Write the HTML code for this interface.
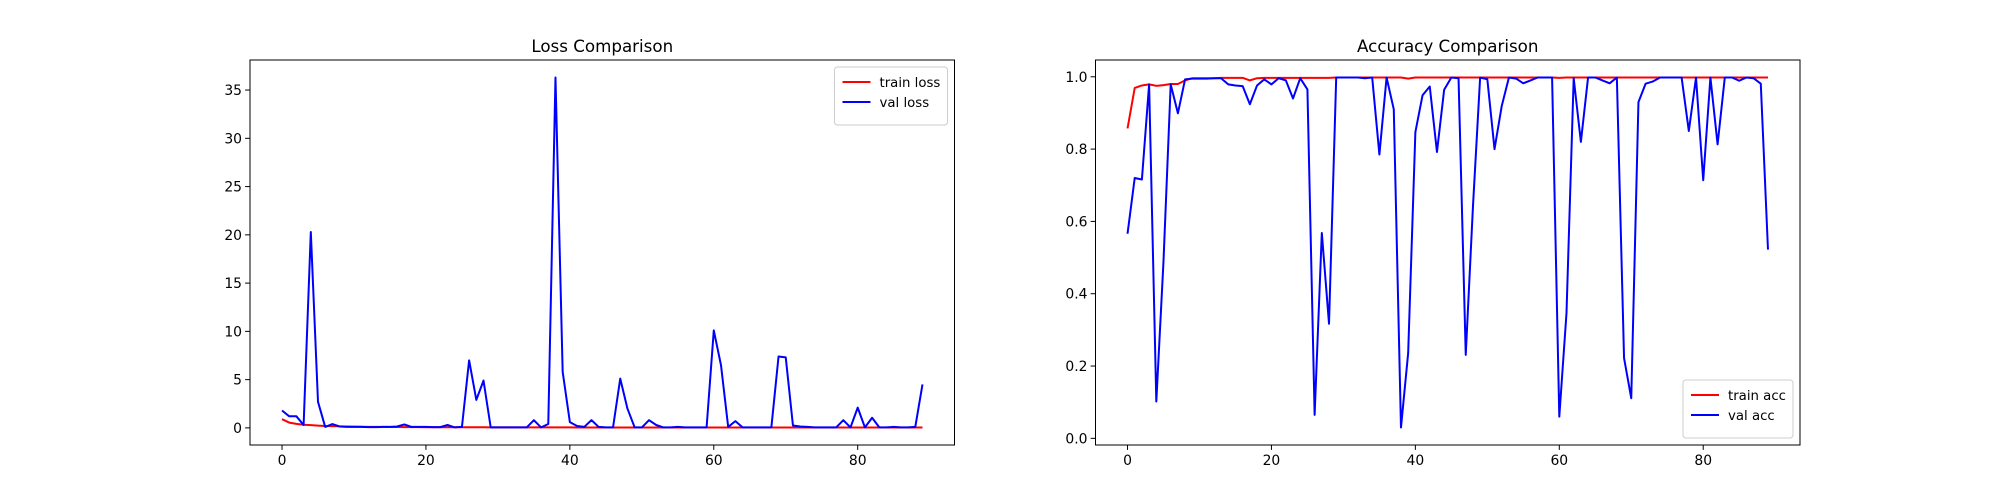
<!DOCTYPE html>
<html><head><meta charset="utf-8"><style>
body{margin:0;background:#fff;}
svg{display:block;font-family:"DejaVu Sans","Liberation Sans",sans-serif;}
</style></head><body>
<svg id="fig" width="2000" height="500" xmlns="http://www.w3.org/2000/svg"></svg>
<script>
const epochs = Array.from({length:90},(_, i)=>i);
const trainLoss = [0.9,0.55,0.42,0.32,0.28,0.24,0.2,0.18,0.16,0.14,0.13,0.12,0.11,0.1,0.1,0.09,0.09,0.08,0.08,0.08,0.07,0.07,0.07,0.07,0.06,0.06,0.06,0.06,0.06,0.05,0.05,0.05,0.05,0.05,0.05,0.05,0.05,0.05,0.05,0.05,0.05,0.04,0.04,0.04,0.04,0.04,0.04,0.04,0.04,0.04,0.04,0.04,0.04,0.04,0.04,0.04,0.04,0.04,0.04,0.04,0.04,0.04,0.04,0.04,0.04,0.04,0.04,0.04,0.04,0.04,0.04,0.04,0.04,0.04,0.04,0.04,0.04,0.04,0.04,0.04,0.04,0.04,0.04,0.04,0.04,0.04,0.04,0.04,0.04,0.04];
const valLoss = [1.8,1.2,1.2,0.3,20.3,2.7,0.1,0.4,0.15,0.1,0.1,0.1,0.08,0.08,0.1,0.1,0.15,0.35,0.1,0.1,0.1,0.08,0.08,0.3,0.05,0.1,7.0,2.9,4.9,0.05,0.05,0.05,0.05,0.05,0.05,0.8,0.05,0.4,36.3,5.8,0.6,0.2,0.1,0.8,0.1,0.05,0.05,5.1,2.0,0.05,0.05,0.8,0.3,0.05,0.05,0.1,0.05,0.05,0.05,0.05,10.1,6.5,0.1,0.7,0.05,0.05,0.05,0.05,0.05,7.4,7.3,0.25,0.15,0.1,0.05,0.05,0.05,0.05,0.8,0.05,2.1,0.05,1.05,0.05,0.05,0.1,0.05,0.05,0.1,4.5];
const trainAcc = [0.857,0.969,0.976,0.979,0.975,0.977,0.98,0.98,0.99,0.996,0.996,0.996,0.996,0.997,0.997,0.997,0.997,0.99,0.996,0.997,0.997,0.997,0.997,0.997,0.997,0.997,0.997,0.997,0.997,0.998,0.998,0.998,0.998,0.998,0.998,0.998,0.998,0.998,0.998,0.995,0.998,0.998,0.998,0.998,0.998,0.998,0.998,0.998,0.998,0.998,0.998,0.998,0.998,0.998,0.998,0.998,0.998,0.998,0.998,0.998,0.997,0.998,0.998,0.998,0.998,0.998,0.998,0.998,0.998,0.998,0.998,0.998,0.998,0.998,0.998,0.998,0.998,0.998,0.998,0.998,0.998,0.998,0.998,0.998,0.998,0.998,0.998,0.998,0.998,0.998];
const valAcc = [0.566,0.72,0.716,0.979,0.102,0.49,0.979,0.899,0.993,0.995,0.995,0.995,0.996,0.996,0.979,0.976,0.974,0.924,0.976,0.993,0.979,0.996,0.99,0.94,0.996,0.965,0.065,0.568,0.317,0.998,0.998,0.998,0.998,0.996,0.998,0.785,0.998,0.91,0.03,0.236,0.847,0.949,0.973,0.792,0.964,0.998,0.996,0.231,0.64,0.998,0.993,0.8,0.919,0.998,0.995,0.982,0.99,0.998,0.998,0.998,0.06,0.346,0.996,0.82,0.998,0.998,0.99,0.982,0.998,0.222,0.111,0.93,0.981,0.987,0.998,0.998,0.998,0.998,0.85,0.998,0.714,0.998,0.813,0.998,0.998,0.989,0.998,0.996,0.981,0.522];
const xTicks = [0,20,40,60,80];
const lossTicks = [0,5,10,15,20,25,30,35];
const accTicks = [0.0,0.2,0.4,0.6,0.8,1.0];

const NS="http://www.w3.org/2000/svg";
const svg=document.getElementById('fig');
function mk(tag,attrs,parent){const e=document.createElementNS(NS,tag);for(const k in attrs)e.setAttribute(k,attrs[k]);(parent||svg).appendChild(e);return e;}

function drawChart(prefix,left,title,series,yTicks,fmt,legendPos){
  const top=60,bottom=445,w=704.5,right=left+w;
  const g=mk('g',{});
  
  
  let all=[];series.forEach(s=>all=all.concat(s.data));
  const dmin=Math.min(...all),dmax=Math.max(...all),pad=(dmax-dmin)*0.05;
  const y0=dmin-pad,y1=dmax+pad;
  const x0=-4.45,x1=93.45;
  const sx=v=>left+(v-x0)/(x1-x0)*w;
  const sy=v=>bottom-(v-y0)/(y1-y0)*(bottom-top);
  series.forEach(s=>{
    const p=mk('polyline',{points:s.data.map((v,i)=>sx(epochs[i]).toFixed(2)+','+sy(v).toFixed(2)).join(' '),fill:'none',stroke:s.color,'stroke-width':2,'stroke-linejoin':'round'},g);
    
    
  });
  const fr=mk('rect',{x:left,y:top,width:w,height:bottom-top,fill:'none',stroke:'#000','stroke-width':1},g);
  
  
  xTicks.forEach(t=>{
    const x=sx(t);
    mk('line',{x1:x,y1:bottom,x2:x,y2:bottom+4.9,stroke:'#000','stroke-width':1},g);
    const tx=mk('text',{x:x,y:bottom+20,'font-size':13.9,'text-anchor':'middle'},g);
    tx.textContent=t;
    
    
  });
  yTicks.forEach(t=>{
    const y=sy(t);
    mk('line',{x1:left-4.9,y1:y,x2:left,y2:y,stroke:'#000','stroke-width':1},g);
    const tx=mk('text',{x:left-8,y:y+5,'font-size':13.9,'text-anchor':'end'},g);
    tx.textContent=fmt(t);
    
    
  });
  const tt=mk('text',{x:left+w/2,y:top-8,'font-size':16.7,'text-anchor':'middle'},g);
  tt.textContent=title;
  
  
  const lw=legendPos.w,lh=58;
  const lx=right-lw-7,ly=legendPos.top?top+7:bottom-lh-7;
  const lg=mk('g',{},g);
  
  
  mk('rect',{x:lx,y:ly,width:lw,height:lh,rx:3,fill:'#fff','fill-opacity':0.8,stroke:'#ccc','stroke-width':1},lg);
  series.forEach((s,i)=>{
    const yy=ly+15+i*20;
    mk('line',{x1:lx+8,y1:yy,x2:lx+36,y2:yy,stroke:s.color,'stroke-width':2},lg);
    const t=mk('text',{x:lx+45,y:yy+5,'font-size':13.3},lg);
    t.textContent=s.label;
    
    
  });
}
drawChart('loss',250,'Loss Comparison',[{data:trainLoss,color:'#ff0000',label:'train loss',name:'train-loss-line'},{data:valLoss,color:'#0000ff',label:'val loss',name:'val-loss-line'}],lossTicks,t=>String(t),{top:true,w:113});
drawChart('accuracy',1095.5,'Accuracy Comparison',[{data:trainAcc,color:'#ff0000',label:'train acc',name:'train-acc-line'},{data:valAcc,color:'#0000ff',label:'val acc',name:'val-acc-line'}],accTicks,t=>t.toFixed(1),{top:false,w:110});
</script>
</body></html>
